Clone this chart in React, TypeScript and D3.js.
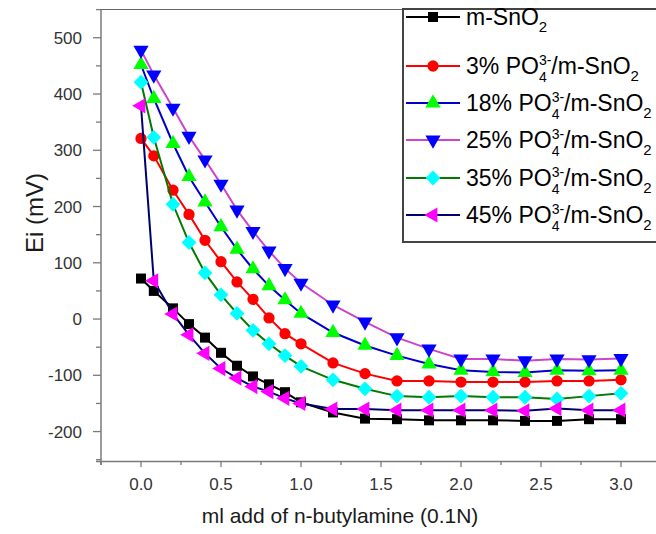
import React, { useEffect, useRef } from 'react';
import * as d3 from 'd3';

// ml of n-butylamine added
const xValues = [0, 0.08, 0.2, 0.3, 0.4, 0.5, 0.6, 0.7, 0.8, 0.9, 1.0, 1.2, 1.4, 1.6, 1.8, 2.0, 2.2, 2.4, 2.6, 2.8, 3.0];

// Ei (mV) per sample
const mSnO2 = [72, 50, 19, -9, -33, -60, -83, -102, -116, -130, -148, -166, -177, -178, -180, -180, -180, -181, -181, -178, -178];
const po3 = [321, 290, 229, 186, 140, 102, 66, 35, 2, -26, -44, -78, -97, -110, -110, -112, -112, -112, -110, -110, -108];
const po18 = [452, 392, 312, 253, 208, 164, 124, 89, 59, 34, 10, -24, -47, -65, -80, -91, -94, -95, -91, -92, -91];
const po25 = [478, 434, 375, 325, 283, 240, 194, 156, 121, 90, 64, 25, -5, -33, -53, -71, -71, -74, -71, -72, -70];
const po35 = [421, 323, 204, 136, 82, 43, 10, -20, -44, -65, -84, -108, -124, -137, -139, -137, -139, -139, -142, -137, -132];
const po45 = [379, 68, 9, -28, -61, -88, -105, -120, -129, -141, -150, -160, -160, -162, -162, -162, -162, -163, -159, -162, -162];

const seriesLabels = ['', '3%', '18%', '25%', '35%', '45%'];
const xTicks = [0, 0.5, 1.0, 1.5, 2.0, 2.5, 3.0];
const yTicks = [-200, -100, 0, 100, 200, 300, 400, 500];

const styles = [
  { line: '#000000', fill: '#000000', shape: 'square' },
  { line: '#ff0000', fill: '#ff0000', shape: 'circle' },
  { line: '#0000c8', fill: '#00ff00', shape: 'up' },
  { line: '#cc44cc', fill: '#0000ff', shape: 'down' },
  { line: '#007a00', fill: '#00ffff', shape: 'diamond' },
  { line: '#000070', fill: '#ff00ff', shape: 'left' },
];

const FONT = "'Liberation Sans', Arial, sans-serif";

function symbolFor(shape: string) {
  if (shape === 'square') return { path: d3.symbol(d3.symbolSquare, 100)()!, rot: 0 };
  if (shape === 'circle') return { path: d3.symbol(d3.symbolCircle, 100)()!, rot: 0 };
  if (shape === 'diamond') return { path: d3.symbol(d3.symbolSquare, 110)()!, rot: 45 };
  const tri = d3.symbol(d3.symbolTriangle, 100)()!;
  if (shape === 'down') return { path: tri, rot: 180 };
  if (shape === 'left') return { path: tri, rot: -90 };
  return { path: tri, rot: 0 };
}

export default function App() {
  const svgRef = useRef<SVGSVGElement>(null);

  useEffect(() => {
    if (!svgRef.current) return;
    const svg = d3.select(svgRef.current);
    svg.selectAll('*').remove();

    const x = d3.scaleLinear().domain([-0.25, 3.25]).range([101, 661]);
    const y = d3.scaleLinear().domain([-250, 550]).range([459.7, 9.6]);
    const axisColor = '#7a7a7a';

    // axes frame
    svg.append('line').attr('x1', 96).attr('x2', 656).attr('y1', 461.5).attr('y2', 461.5)
      .attr('stroke', axisColor).attr('stroke-width', 1.5);
    svg.append('line').attr('x1', 101).attr('x2', 101).attr('y1', 9.5).attr('y2', 465)
      .attr('stroke', axisColor).attr('stroke-width', 1.5);
    svg.append('line').attr('x1', 96).attr('x2', 656).attr('y1', 9.5).attr('y2', 9.5)
      .attr('stroke', '#666').attr('stroke-width', 1.2);

    // y ticks
    d3.range(-250, 551, 50).forEach(v => {
      const major = v % 100 === 0;
      svg.append('line').attr('x1', 101).attr('x2', major ? 93 : 96)
        .attr('y1', y(v)).attr('y2', y(v)).attr('stroke', axisColor).attr('stroke-width', 1.3);
    });
    svg.append('g').selectAll('text').data(yTicks).enter().append('text')
      .attr('x', 82).attr('y', d => y(d)).attr('dy', '0.36em')
      .attr('text-anchor', 'end').attr('font-family', FONT).attr('font-size', 17)
      .attr('fill', '#333').text(d => d);

    // x ticks
    d3.range(-0.25, 3.26, 0.25).forEach(v => {
      const major = Math.abs(v * 2 - Math.round(v * 2)) < 1e-6;
      svg.append('line').attr('x1', x(v)).attr('x2', x(v))
        .attr('y1', 461.5).attr('y2', major ? 467 : 465).attr('stroke', axisColor).attr('stroke-width', 1.3);
    });
    svg.append('g').selectAll('text').data(xTicks).enter().append('text')
      .attr('x', d => x(d)).attr('y', 490).attr('text-anchor', 'middle')
      .attr('font-family', FONT).attr('font-size', 17).attr('fill', '#333')
      .text(d => d.toFixed(1));

    // titles
    svg.append('text').attr('x', 340).attr('y', 523).attr('text-anchor', 'middle')
      .attr('font-family', FONT).attr('font-size', 21).attr('fill', '#1a1a1a')
      .text('ml add of n-butylamine (0.1N)');
    svg.append('text').attr('transform', 'translate(43,213) rotate(-90)').attr('text-anchor', 'middle')
      .attr('font-family', FONT).attr('font-size', 24).attr('fill', '#1a1a1a')
      .text('Ei (mV)');

    // series
    const allSeries = [mSnO2, po3, po18, po25, po35, po45];
    const line = d3.line<number>().x((_, i) => x(xValues[i])).y(d => y(d));
    allSeries.forEach((vals, si) => {
      const st = styles[si];
      svg.append('path').attr('d', line(vals)!).attr('fill', 'none')
        .attr('stroke', st.line).attr('stroke-width', 2);
      const sym = symbolFor(st.shape);
      svg.append('g').selectAll('path').data(vals).enter().append('path')
        .attr('d', sym.path)
        .attr('transform', (d, i) => `translate(${x(xValues[i])},${y(d)}) rotate(${sym.rot})`)
        .attr('fill', st.fill);
    });

    // legend
    const lg = svg.append('g');
    lg.append('rect').attr('x', 403).attr('y', 9).attr('width', 300).attr('height', 233)
      .attr('fill', 'white').attr('stroke', '#444').attr('stroke-width', 2);
    const rowY = [17, 66, 103, 140, 178, 215];
    styles.forEach((st, i) => {
      const ry = rowY[i];
      lg.append('line').attr('x1', 406).attr('x2', 460).attr('y1', ry).attr('y2', ry)
        .attr('stroke', st.line).attr('stroke-width', 2);
      const sym = symbolFor(st.shape);
      lg.append('path').attr('d', sym.path)
        .attr('transform', `translate(433,${ry}) rotate(${sym.rot})`).attr('fill', st.fill);

      const t = lg.append('text').attr('x', 466).attr('y', ry + 8)
        .attr('font-family', FONT).attr('font-size', 23).attr('fill', '#000');
      if (i === 0) {
        t.append('tspan').text('m-SnO');
        t.append('tspan').attr('dy', 7).attr('font-size', 15).text('2');
      } else {
        t.append('tspan').text(`${seriesLabels[i]} PO`);
        const sup = t.append('tspan').attr('dy', -9).attr('font-size', 14).text('3-');
        const supW = (sup.node() as SVGTextContentElement).getComputedTextLength();
        const sub = t.append('tspan').attr('dx', -supW).attr('dy', 17).attr('font-size', 14).text('4');
        const subW = (sub.node() as SVGTextContentElement).getComputedTextLength();
        t.append('tspan').attr('dx', supW - subW).attr('dy', -8).text('/m-SnO');
        t.append('tspan').attr('dy', 7).attr('font-size', 15).text('2');
      }
    });
  }, []);

  return (
    <svg ref={svgRef} width={656} height={534}
      style={{ position: 'absolute', left: 0, top: 0, background: 'white' }} />
  );
}
